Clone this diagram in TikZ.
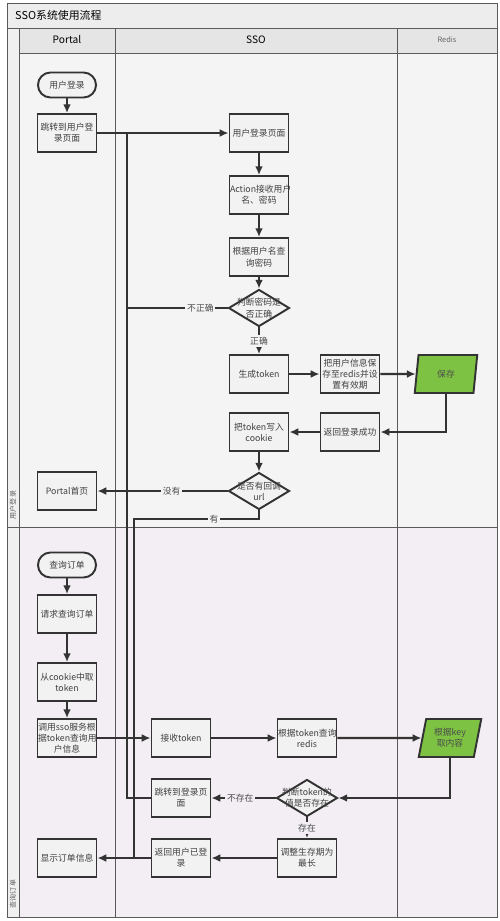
\documentclass[tikz,border=0pt]{standalone}
\usepackage{fontspec}
\setmainfont{Noto Sans CJK SC}
\usetikzlibrary{arrows.meta,positioning,shapes.geometric}

\definecolor{bgtop}{HTML}{F3F4F3}
\definecolor{bgbot}{HTML}{F2EEF3}
\definecolor{inkline}{HTML}{333333}
\definecolor{lanegray}{HTML}{5A5A5A}
\definecolor{redisgreen}{HTML}{7DC242}

\begin{document}
\begin{tikzpicture}[x=0.02cm,y=-0.02cm,>=Latex,
  font=\fontsize{5}{6.4}\selectfont,
  proc/.style={draw=inkline,line width=1.1pt,fill=black!5,text=black!75,
    text width=1.16cm,minimum height=0.76cm,align=center,inner sep=0.3mm,
    inner xsep=0.3pt},
  term/.style={proc,rounded corners=0.25cm,minimum height=0.5cm,text width=1.14cm},
  chk/.style={diamond,draw=inkline,line width=1.1pt,fill=black!5,inner sep=0pt,
    minimum width=1.22cm,minimum height=0.74cm},
  chktext/.style={align=center,text=black!75,font=\fontsize{5}{6.4}\selectfont},
  store/.style={trapezium,trapezium left angle=72,trapezium right angle=108,
    trapezium stretches body,draw=inkline,line width=1.1pt,fill=redisgreen,
    text=black!70,align=center,minimum width=1.25cm,minimum height=0.76cm,inner sep=1pt},
  flow/.style={draw=inkline,line width=1.3pt},
  arr/.style={flow,->,>={Latex[length=5pt,width=4.5pt]}},
  lbl/.style={text=black!70,inner sep=1pt},
  lane/.style={draw=lanegray,line width=0.5pt}]

  \useasboundingbox (0,0) rectangle (500,921);

  % swimlane frame
  \fill[white] (0,0) rectangle (500,921);
  \fill[black!7] (7,3) rectangle (497,28);
  \fill[black!10] (19,28) rectangle (497,53);
  \fill[black!6] (7,28) rectangle (19,917);
  \fill[bgtop] (19,53) rectangle (497,527);
  \fill[bgbot] (19,527) rectangle (497,917);
  \draw[lane] (7,3) rectangle (497,917);
  \draw[lane] (7,28) -- (497,28);
  \draw[lane] (19,53) -- (497,53);
  \draw[lane] (7,527) -- (497,527);
  \foreach \x in {19,115,397}{
    \draw[lane] (\x,28) -- (\x,917);
  }
  \node[anchor=west,font=\fontsize{6.2}{7}\selectfont] (title) at (9,15) {SSO系统使用流程};
  \node[font=\fontsize{5.8}{7}\selectfont] (hportal) at (67,40) {Portal};
  \node[font=\fontsize{5.8}{7}\selectfont] (hsso) at (256,40) {SSO};
  \node[font=\fontsize{4.2}{5}\selectfont,text=black!60] (hredis) at (447,40) {Redis};
  \node[rotate=90,font=\fontsize{4}{5}\selectfont,text=black!60] (phlogin) at (13,505) {用户登录};
  \node[rotate=90,font=\fontsize{4}{5}\selectfont,text=black!60] (phorder) at (13,894) {查询订单};

  % user login
  \node[term] (start1) at (67,85) {用户登录};
  \node[proc] (jump1) at (67,133) {跳转到用户登\\录页面};
  \node[proc] (page) at (259,133) {用户登录页面};
  \node[proc] (action) at (259,195) {Action接收用户\\名、密码};
  \node[proc] (query) at (259,257) {根据用户名查\\询密码};
  \node[chk,label={[chktext]center:判断密码是\\否正确}] (chk1) at (259,308) {};
  \node[proc] (gen) at (259,374) {生成token};
  \node[proc] (saveinfo) at (350,374) {把用户信息保\\存至redis并设\\置有效期};
  \node[store] (rsave) at (446,374) {保存};
  \node[proc] (retok) at (350,432) {返回登录成功};
  \node[proc] (cookie) at (259,432) {把token写入\\cookie};
  \node[chk,label={[chktext]center:是否有回调\\url}] (chk2) at (259,491) {};
  \node[proc] (home) at (67,491) {Portal首页};

  \coordinate (loopTop) at (127,133);
  \coordinate (loopMid) at (127,308);
  \coordinate (hasA) at (134,519);
  \coordinate (hasB) at (134,858);

  \draw[arr] (start1) -- (jump1);
  \draw[arr] (jump1) -- (page);
  \draw[arr] (page) -- (action);
  \draw[arr] (action) -- (query);
  \draw[arr] (query) -- (chk1);
  \draw[arr] (chk1) -- node[lbl,fill=bgtop] {正确} (gen);
  \draw[flow] (chk1.west) -- node[lbl,fill=bgtop,pos=0.27] {不正确} (loopMid);
  \draw[arr] (gen) -- (saveinfo);
  \draw[arr] (saveinfo) -- (rsave);
  \draw[arr] (rsave.south) |- (retok.east);
  \draw[arr] (retok) -- (cookie);
  \draw[arr] (cookie) -- (chk2);
  \draw[arr] (chk2.west) -- node[lbl,fill=bgtop,pos=0.43] {没有} (home.east);
  \draw[flow] (chk2.south) |- node[lbl,fill=bgtop,pos=0.68] {有} (hasA) -- (hasB);

  % order query
  \node[term] (start2) at (67,565) {查询订单};
  \node[proc] (req) at (67,614) {请求查询订单};
  \node[proc] (gettok) at (67,682) {从cookie中取\\token};
  \node[proc] (call) at (67,738) {调用sso服务根\\据token查询用\\户信息};
  \node[proc] (show) at (67,858) {显示订单信息};
  \node[proc] (recv) at (181,738) {接收token};
  \node[proc] (rquery) at (307,738) {根据token查询\\redis};
  \node[store] (rkey) at (450,738) {根据key\\取内容};
  \node[chk,label={[chktext]center:判断token的\\值是否存在}] (chk3) at (307,798) {};
  \node[proc] (jump2) at (181,798) {跳转到登录页\\面};
  \node[proc] (adjust) at (307,858) {调整生存期为\\最长};
  \node[proc] (logged) at (181,858) {返回用户已登\\录};

  \draw[arr] (start2) -- (req);
  \draw[arr] (req) -- (gettok);
  \draw[arr] (gettok) -- (call);
  \draw[arr] (call) -- (recv);
  \draw[arr] (recv) -- (rquery);
  \draw[arr] (rquery) -- (rkey);
  \draw[arr] (rkey.south) |- (chk3.east);
  \draw[arr] (chk3.west) -- node[lbl,fill=bgbot,pos=0.55] {不存在} (jump2.east);
  \draw[arr] (chk3) -- node[lbl,fill=bgbot] {存在} (adjust);
  \draw[arr] (adjust) -- (logged);
  \draw[arr] (logged) -- (show);
  \draw[flow] (jump2.west) -| (loopTop);
\end{tikzpicture}
\end{document}
